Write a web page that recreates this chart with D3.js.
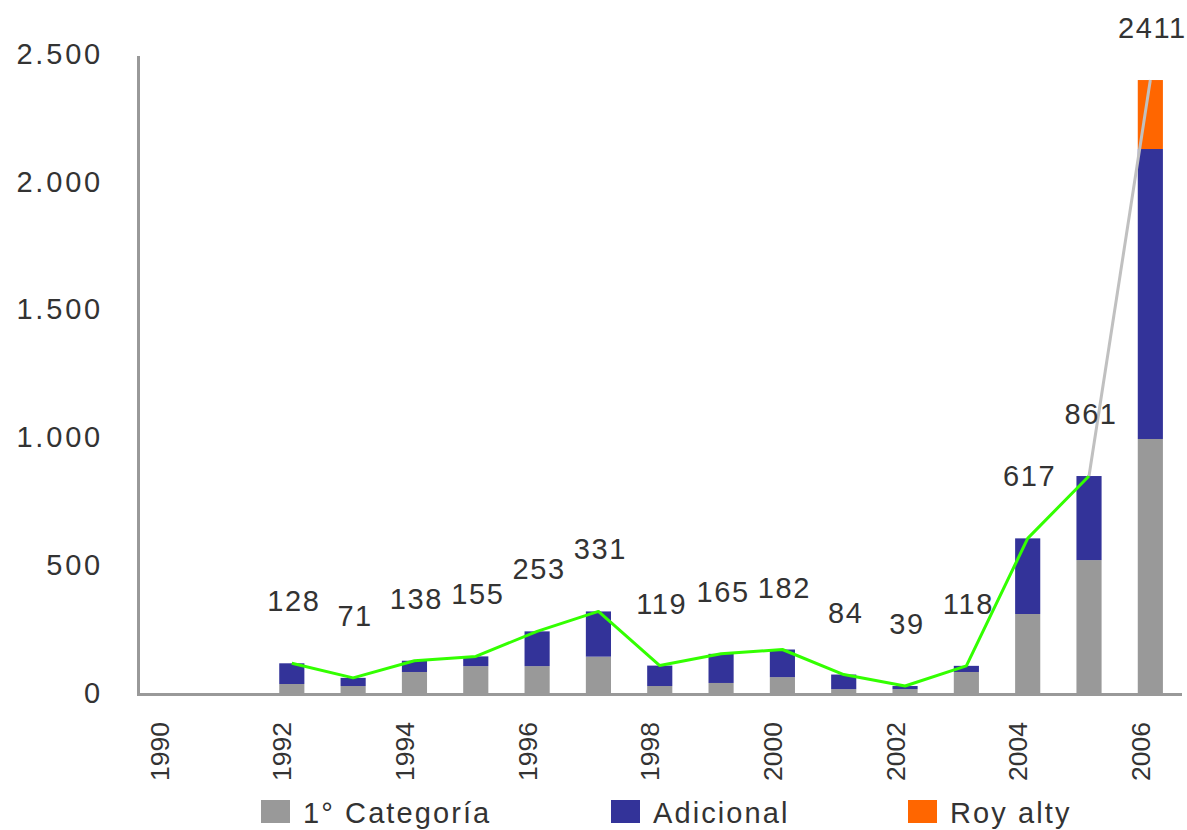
<!DOCTYPE html>
<html>
<head>
<meta charset="utf-8">
<script src="https://cdn.jsdelivr.net/npm/d3@7"></script>
<style>
  html, body { margin: 0; padding: 0; background: #ffffff; }
  svg { display: block; }
  text { font-family: "Liberation Sans", Arial, Helvetica, sans-serif; fill: #333333; }
</style>
</head>
<body>
<svg id="chart" width="1187" height="830"></svg>
<script>
// ---- data ----
const years = ["1990","1991","1992","1993","1994","1995","1996","1997","1998","1999","2000","2001","2002","2003","2004","2005","2006"];
const categoria = [0, 0, 47, 39, 94, 117, 117, 154, 39, 51, 74, 27, 27, 94, 321, 532, 1006];
const adicional = [0, 0, 81, 32, 44, 38, 136, 177, 80, 114, 108, 57, 12, 24, 296, 329, 1135];
const royalty   = [0, 0, 0, 0, 0, 0, 0, 0, 0, 0, 0, 0, 0, 0, 0, 0, 270];
const totals    = [null, null, 128, 71, 138, 155, 253, 331, 119, 165, 182, 84, 39, 118, 617, 861, 2411];
const yTicks = [0, 500, 1000, 1500, 2000, 2500];
const yTickLabels = ["0", "500", "1.000", "1.500", "2.000", "2.500"];
const xTickLabels = ["1990","1992","1994","1996","1998","2000","2002","2004","2006"];
const seriesNames = ["1° Categoría", "Adicional", "Roy alty"];
const seriesColors = ["#999999", "#333399", "#FF6600"];

// ---- layout ----
const svg = d3.select("#chart");
const x = d3.scaleBand().domain(years).range([138.5, 1181]).paddingInner(0.59).paddingOuter(0.295);
const y = d3.scaleLinear().domain([0, 2500]).range([696, 57.3]);
const cx = d => x(d) + x.bandwidth() / 2;

const rows = years.map((yr, i) => ({ year: yr, cat: categoria[i], adi: adicional[i], roy: royalty[i] }));
const stack = d3.stack().keys(["cat", "adi", "roy"])(rows);

// bars
svg.append("g").selectAll("g").data(stack).join("g")
  .attr("fill", (d, i) => seriesColors[i])
  .selectAll("rect").data(d => d.filter(p => p[1] > p[0])).join("rect")
  .attr("x", d => x(d.data.year))
  .attr("width", x.bandwidth())
  .attr("y", d => y(d[1]))
  .attr("height", d => y(d[0]) - y(d[1]));

// y axis
const yAxis = d3.axisLeft(y).tickValues(yTicks).tickSize(0).tickFormat((d, i) => yTickLabels[i]);
const gy = svg.append("g").attr("transform", "translate(138.5,0)").call(yAxis);
gy.select(".domain").attr("stroke", "#999999").attr("stroke-width", 3).attr("d", "M0,56V696");
gy.selectAll("text")
  .attr("x", -35.5).attr("dy", 0).attr("y", 6)
  .attr("text-anchor", "end")
  .style("font-size", "29px").style("letter-spacing", "2.8px").attr("fill", "#333333");

// x axis
const xAxis = d3.axisBottom(x).tickValues(xTickLabels).tickSize(0);
const gx = svg.append("g").attr("transform", "translate(0,694.5)").call(xAxis);
gx.select(".domain").attr("stroke", "#999999").attr("stroke-width", 3).attr("d", "M137,0H1182");
gx.selectAll(".tick text")
  .attr("transform", "translate(-0.5,27.5) rotate(-90)")
  .attr("x", 0).attr("y", 0).attr("dy", 0)
  .attr("text-anchor", "end")
  .style("font-size", "26.5px").attr("fill", "#333333");

// line (green through 2005, gray to 2006)
const pts = years.map((yr, i) => ({ year: yr, v: totals[i] })).filter(d => d.v !== null);
const line = d3.line().x(d => cx(d.year)).y(d => y(d.v));
const lineVals = pts.map(d => {
  const i = years.indexOf(d.year);
  return { year: d.year, v: categoria[i] + adicional[i] + royalty[i] };
});
svg.append("path").datum(lineVals.slice(0, lineVals.length - 1))
  .attr("d", line).attr("fill", "none").attr("stroke", "#33FF00").attr("stroke-width", 3).attr("stroke-linejoin", "round");
svg.append("path").datum(lineVals.slice(lineVals.length - 2))
  .attr("d", line).attr("fill", "none").attr("stroke", "#C0C0C0").attr("stroke-width", 3);

// data labels
svg.append("g").selectAll("text").data(pts).join("text")
  .attr("x", d => cx(d.year) + 2)
  .attr("y", d => Math.max(y(d.v) - 52, 38))
  .attr("text-anchor", "middle")
  .style("font-size", "29px").style("letter-spacing", "1.6px")
  .text(d => d.v);

// legend
const legX = [261, 611, 908];
const leg = svg.append("g").selectAll("g").data(seriesNames).join("g")
  .attr("transform", (d, i) => `translate(${legX[i]},800)`);
leg.append("rect").attr("width", 29).attr("height", 23).attr("fill", (d, i) => seriesColors[i]);
leg.append("text").attr("x", 42).attr("y", 23)
  .style("font-size", "29px").style("letter-spacing", "2.1px")
  .text(d => d);
</script>
</body>
</html>
